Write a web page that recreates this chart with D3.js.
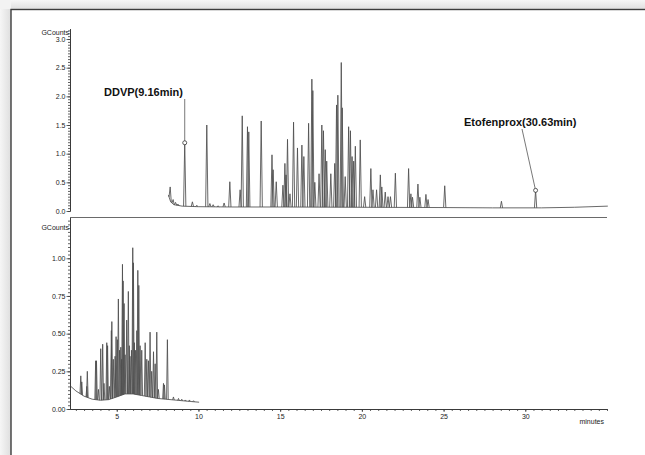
<!DOCTYPE html>
<html>
<head>
<meta charset="utf-8">
<script src="https://cdn.jsdelivr.net/npm/d3@7"></script>
<style>
  html, body { margin: 0; padding: 0; background: #ffffff; overflow: hidden; }
  svg text { font-family: "Liberation Sans", Arial, sans-serif; }
</style>
</head>
<body>
<svg id="chart" width="645" height="455"></svg>
<script>
// ---- Upper trace: baseline drift (minutes, GCounts) ----
const upperBaseline = [
  [8.16, 0.28], [8.3, 0.16], [8.5, 0.11], [9.0, 0.085], [10, 0.075], [12, 0.07],
  [15, 0.07], [20, 0.065], [25, 0.06], [28, 0.055], [31, 0.055], [33, 0.065], [35.05, 0.085]
];
// Upper trace peaks: retention time (min) and apex height (GCounts)
const upperPeakTimes = [
  8.27, 8.45, 8.6, 8.75, 9.16, 9.63, 9.9, 10.51, 10.7, 10.9, 11.2, 11.57, 11.92,
  12.55, 12.68, 13.0, 13.08, 13.84, 14.5, 14.57, 14.76, 15.17, 15.29, 15.36, 15.45,
  15.6, 15.82, 16.06, 16.33, 16.45, 16.74, 16.94, 17.0, 17.12, 17.38, 17.55, 17.65,
  17.76, 17.85, 18.1, 18.34, 18.45, 18.53, 18.74, 18.8, 18.98, 19.19, 19.3, 19.4,
  19.5, 19.6, 19.9, 20.17, 20.55, 20.68, 20.9, 21.13, 21.22, 21.43, 21.6, 21.75,
  22.05, 22.86, 23.0, 23.1, 23.43, 23.55, 23.92, 24.05, 25.07, 28.54, 30.63
];
const upperPeakHeights = [
  0.42, 0.2, 0.15, 0.12, 1.19, 0.16, 0.1, 1.50, 0.13, 0.11, 0.09, 0.14, 0.51,
  0.37, 1.66, 1.47, 1.38, 1.57, 0.98, 0.72, 0.51, 0.45, 0.83, 0.63, 1.25,
  0.3, 1.55, 1.1, 1.15, 0.95, 1.53, 2.30, 2.1, 0.5, 0.65, 1.5, 1.4,
  1.07, 0.87, 0.65, 0.83, 1.85, 2.02, 2.59, 1.8, 0.6, 1.47, 1.4, 0.95,
  0.87, 1.13, 1.24, 0.25, 0.74, 0.37, 0.37, 0.63, 0.42, 0.33, 0.25, 0.25,
  0.66, 0.74, 0.3, 0.24, 0.47, 0.24, 0.29, 0.2, 0.44, 0.17, 0.36
];

// ---- Lower trace ----
const lowerBaseline = [
  [2.14, 0.155], [2.5, 0.12], [3.0, 0.085], [3.5, 0.065], [4.0, 0.058], [4.5, 0.062],
  [5.0, 0.08], [5.5, 0.1], [6.0, 0.1], [6.5, 0.09], [7.0, 0.08], [7.5, 0.07],
  [8.0, 0.065], [8.5, 0.06], [9.0, 0.055], [9.5, 0.05], [10.04, 0.045]
];
const lowerPeakTimes = [
  2.80, 2.86, 3.17, 3.2, 3.71, 3.76, 3.88, 4.02, 4.14, 4.22, 4.39, 4.44, 4.55, 4.67,
  4.70, 4.79, 4.9, 4.96, 5.04, 5.1, 5.17, 5.25, 5.3, 5.35, 5.39, 5.45, 5.51, 5.61,
  5.71, 5.77, 5.81, 5.9, 5.98, 6.02, 6.08, 6.14, 6.23, 6.29, 6.35, 6.43, 6.53, 6.74,
  6.84, 6.94, 7.04, 7.14, 7.25, 7.35, 7.45, 7.55, 7.86, 7.92, 8.1, 8.47, 8.78, 8.98,
  9.2, 9.45, 9.7
];
const lowerPeakHeights = [
  0.22, 0.18, 0.15, 0.25, 0.32, 0.32, 0.13, 0.40, 0.43, 0.17, 0.44, 0.42, 0.15, 0.52,
  0.58, 0.33, 0.35, 0.48, 0.46, 0.73, 0.39, 0.41, 0.33, 0.96, 0.85, 0.7, 0.36, 0.59,
  0.78, 0.42, 0.35, 0.39, 1.07, 0.97, 0.44, 0.39, 0.52, 0.92, 0.82, 0.42, 0.39, 0.44,
  0.33, 0.32, 0.51, 0.25, 0.38, 0.3, 0.51, 0.13, 0.17, 0.16, 0.46, 0.08, 0.07, 0.065,
  0.06, 0.06, 0.055
];

// ---- Axis ticks ----
const timeTicks = [5, 10, 15, 20, 25, 30];
const upperTicks = [0, 0.5, 1.0, 1.5, 2.0, 2.5, 3.0];
const lowerTicks = [0, 0.25, 0.5, 0.75, 1.0];

// ---- Annotated compounds ----
const annoNames = ["DDVP(9.16min)", "Etofenprox(30.63min)"];
const annoTimes = [9.16, 30.63];

const svg = d3.select("#chart");
const ink = "#3a3a3a";
const traceInk = "#4e4e4e";

// Window backdrop with a soft shadow along the top and left of the frame
const defs = svg.append("defs");
const gl = defs.append("linearGradient").attr("id", "shL").attr("x1", 0).attr("x2", 1).attr("y1", 0).attr("y2", 0);
gl.append("stop").attr("offset", "0%").attr("stop-color", "#f6f6f6");
gl.append("stop").attr("offset", "100%").attr("stop-color", "#dedede");
const gt = defs.append("linearGradient").attr("id", "shT").attr("x1", 0).attr("x2", 0).attr("y1", 0).attr("y2", 1);
gt.append("stop").attr("offset", "0%").attr("stop-color", "#f6f6f6");
gt.append("stop").attr("offset", "100%").attr("stop-color", "#dedede");
svg.append("rect").attr("x", 0).attr("y", 0).attr("width", 645).attr("height", 455).attr("fill", "#f3f3f3");
svg.append("rect").attr("x", 0).attr("y", 9).attr("width", 11).attr("height", 446).attr("fill", "url(#shL)");
svg.append("rect").attr("x", 11).attr("y", 0).attr("width", 634).attr("height", 9.5).attr("fill", "url(#shT)");
svg.append("rect").attr("x", 11).attr("y", 9.5).attr("width", 700).attr("height", 500)
  .attr("fill", "#ffffff").attr("stroke", "#3c3c3c").attr("stroke-width", 1.4);

// Scales
const x = d3.scaleLinear().domain([2.14, 35.0]).range([70, 607]);
const yUp = d3.scaleLinear().domain([0, 3.18]).range([211, 28.7]);
const yLo = d3.scaleLinear().domain([0, 1.27]).range([409, 217.6]);

// Baseline lookups (piecewise-linear scales over the drift points)
const baseUp = d3.scaleLinear().domain(upperBaseline.map(d => d[0])).range(upperBaseline.map(d => d[1])).clamp(true);
const baseLo = d3.scaleLinear().domain(lowerBaseline.map(d => d[0])).range(lowerBaseline.map(d => d[1])).clamp(true);

function drawTrace(g, baseline, baseFn, times, heights, yS, halfWidth) {
  const line = d3.line().x(d => x(d[0])).y(d => yS(d[1]));
  g.append("path").attr("d", line(baseline))
    .attr("fill", "none").attr("stroke", traceInk).attr("stroke-width", 0.85);
  times.forEach((t, i) => {
    const pts = [[t - halfWidth, baseFn(t - halfWidth)], [t, heights[i]], [t + halfWidth, baseFn(t + halfWidth)]];
    g.append("path").attr("d", line(pts))
      .attr("fill", "none").attr("stroke", traceInk).attr("stroke-width", 0.85)
      .attr("stroke-linejoin", "round");
  });
}

const plot = svg.append("g");
drawTrace(plot, upperBaseline, baseUp, upperPeakTimes, upperPeakHeights, yUp, 0.07);
drawTrace(plot, lowerBaseline, baseLo, lowerPeakTimes, lowerPeakHeights, yLo, 0.05);

// Separator between the two panels
svg.append("line").attr("x1", x(2.14)).attr("x2", x(35.0)).attr("y1", 217.5).attr("y2", 217.5)
  .attr("stroke", "#6a6a6a").attr("stroke-width", 1);

function styleAxis(g) {
  g.selectAll("path.domain").attr("stroke", ink).attr("stroke-width", 1);
  g.selectAll(".tick line").attr("stroke", ink).attr("stroke-width", 0.8);
  g.selectAll("text").attr("font-size", "7px").attr("fill", "#222").style("font-family", '"Liberation Sans", Arial, sans-serif');
}

// Upper y axis
const gUpMinor = svg.append("g").attr("transform", "translate(70,0)")
  .call(d3.axisLeft(yUp).tickValues(d3.range(0, 3.16, 0.05)).tickSize(2).tickSizeOuter(0).tickFormat(""));
styleAxis(gUpMinor);
const gUp = svg.append("g").attr("transform", "translate(70,0)")
  .call(d3.axisLeft(yUp).tickValues(upperTicks).tickSize(3.5).tickPadding(1).tickSizeOuter(0).tickFormat(d3.format(".1f")));
styleAxis(gUp);

// Lower y axis
const gLoMinor = svg.append("g").attr("transform", "translate(70,0)")
  .call(d3.axisLeft(yLo).tickValues(d3.range(0, 1.26, 0.025)).tickSize(2).tickSizeOuter(0).tickFormat(""));
styleAxis(gLoMinor);
const gLo = svg.append("g").attr("transform", "translate(70,0)")
  .call(d3.axisLeft(yLo).tickValues(lowerTicks).tickSize(3.5).tickPadding(1).tickSizeOuter(0).tickFormat(d3.format(".2f")));
styleAxis(gLo);

// Time axis
const gxMinor = svg.append("g").attr("transform", "translate(0,409)")
  .call(d3.axisBottom(x).tickValues(d3.range(2.5, 35.01, 0.5)).tickSize(2).tickSizeOuter(0).tickFormat(""));
styleAxis(gxMinor);
const gx = svg.append("g").attr("transform", "translate(0,409)")
  .call(d3.axisBottom(x).tickValues(timeTicks).tickSize(3).tickPadding(2.5).tickSizeOuter(0).tickFormat(d3.format("d")));
styleAxis(gx);

// Unit labels
svg.append("text").attr("x", 69).attr("y", 34.5).attr("text-anchor", "end")
  .attr("font-size", "7px").attr("fill", "#222").text("GCounts");
svg.append("text").attr("x", 69).attr("y", 229.5).attr("text-anchor", "end")
  .attr("font-size", "7px").attr("fill", "#222").text("GCounts");
svg.append("text").attr("x", 604).attr("y", 423.5).attr("text-anchor", "end")
  .attr("font-size", "7px").attr("fill", "#222").text("minutes");

// Compound annotations: label, leader line and apex marker
const labelPos = [[104, 96], [464, 126]];
const leaderStart = [[x(9.16), 99], [522, 129]];
annoNames.forEach((name, i) => {
  const t = annoTimes[i];
  const h = upperPeakHeights[upperPeakTimes.indexOf(t)];
  svg.append("text").attr("x", labelPos[i][0]).attr("y", labelPos[i][1])
    .attr("font-size", "11px").attr("font-weight", "bold").attr("fill", "#111").text(name);
  svg.append("line").attr("x1", leaderStart[i][0]).attr("y1", leaderStart[i][1])
    .attr("x2", x(t)).attr("y2", yUp(h))
    .attr("stroke", "#555").attr("stroke-width", 0.8);
  svg.append("circle").attr("cx", x(t)).attr("cy", yUp(h)).attr("r", 2)
    .attr("fill", "#fff").attr("stroke", "#333").attr("stroke-width", 0.8);
});
</script>
</body>
</html>
